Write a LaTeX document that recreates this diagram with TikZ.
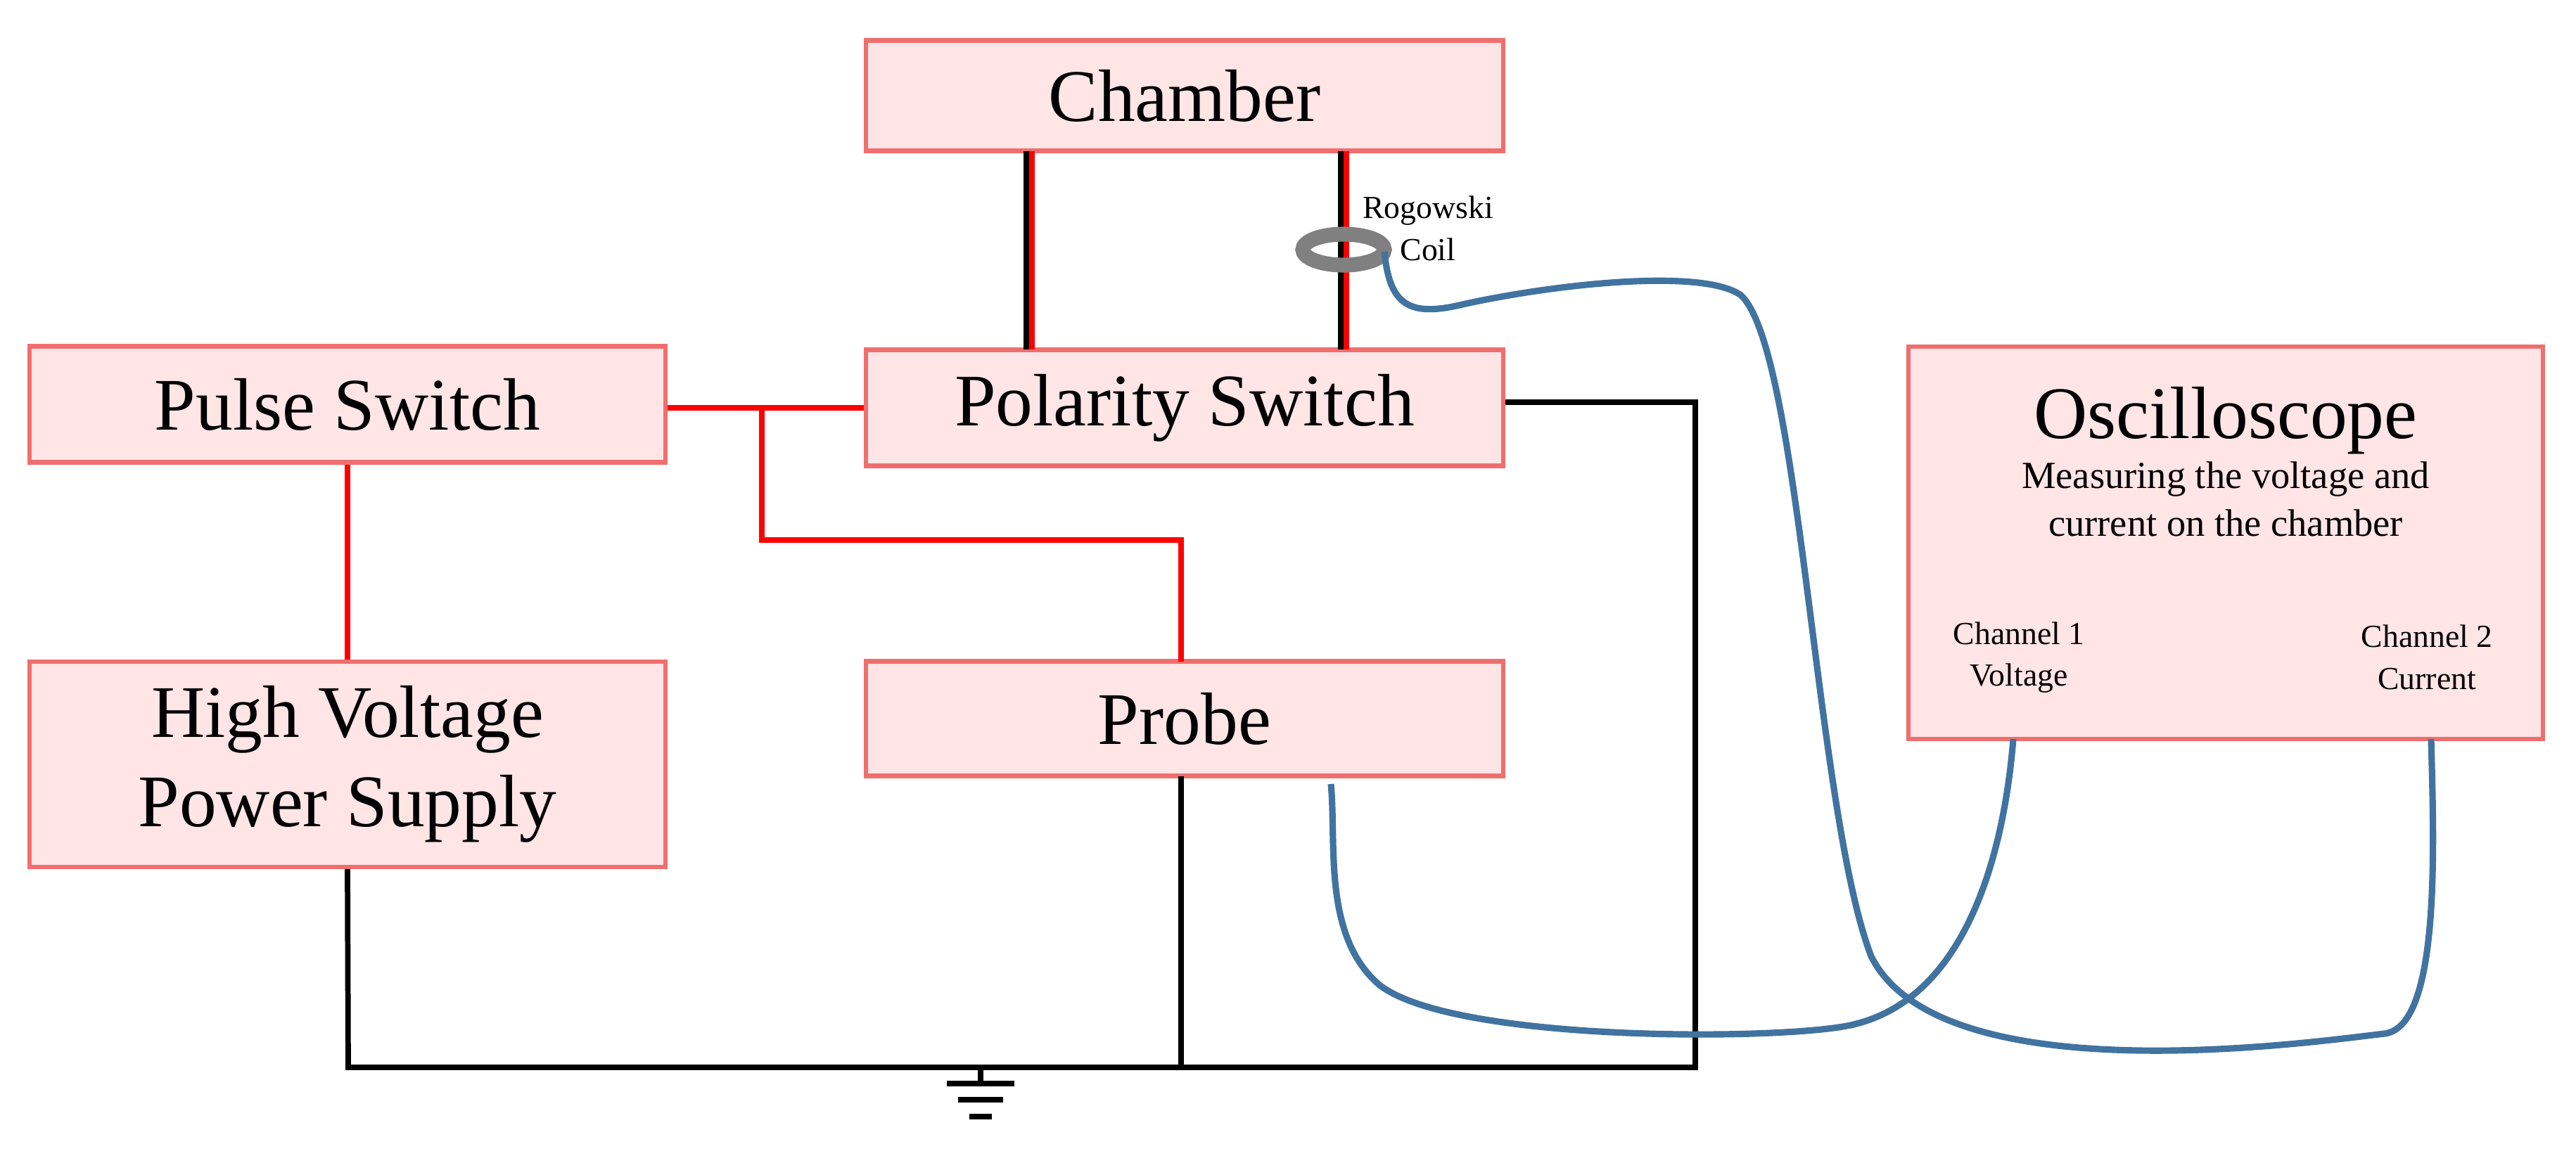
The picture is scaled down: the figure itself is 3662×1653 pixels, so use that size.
\documentclass[tikz,border=0pt]{standalone}
\usepackage{fontspec}
\setmainfont{Liberation Serif}
\begin{document}
\begin{tikzpicture}[x=0.01cm,y=-0.01cm,
 box/.style={draw={rgb,255:red,240;green,110;blue,110},line width=1.8pt,fill={rgb,255:red,255;green,229;blue,229},inner sep=0pt,font=\fontsize{30}{36}\selectfont,align=center},
 rw/.style={red,line width=2.2pt},
 bw/.style={black,line width=2.2pt},
 blw/.style={color={rgb,255:red,65;green,115;blue,160},line width=2.6pt},
 small/.style={font=\fontsize{15.5}{19.5}\selectfont,align=center},
 tiny/.style={font=\fontsize{13}{17}\selectfont,align=center}]
\useasboundingbox (0,0) rectangle (3662,1653);
\node[box,minimum width=906*0.01cm,minimum height=157*0.01cm] (ch) at (1684,136) {Chamber};
\node[box,minimum width=904*0.01cm,minimum height=165*0.01cm] (ps) at (494,575) {Pulse Switch};
\node[box,minimum width=906*0.01cm,minimum height=165*0.01cm] (pol) at (1684,580) {Polarity Switch};
\node[box,minimum width=904*0.01cm,minimum height=292*0.01cm] (hv) at (494,1087) {High Voltage\\Power Supply};
\node[box,minimum width=906*0.01cm,minimum height=163*0.01cm] (pr) at (1684,1022) {Probe};
\node[box,minimum width=902*0.01cm,minimum height=558*0.01cm] (osc) at (3164,772) {};
\node[font=\fontsize{30}{36}\selectfont] (osct) at (3164,598) {Oscilloscope};
\node[small] (oscm) at (3164,710) {Measuring the voltage and\\current on the chamber};
\node[tiny] (c1) at (2870,935) {Channel 1\\Voltage};
\node[tiny] (c2) at (3450,935) {Channel 2\\Current};
\node[tiny] (rog) at (2030,325) {Rogowski\\Coil};
% chamber to polarity wires
\draw[bw] (1459,215) -- (1459,497);
\draw[rw] (1467,215) -- (1467,497);
\draw[bw] (1906,215) -- (1906,497);
\draw[rw] (1914,215) -- (1914,497);
% coil
\draw[color={rgb,255:red,128;green,128;blue,128},line width=6pt] (1910,355) ellipse (58 and 22);
\draw[rw] (1914,345) -- (1914,365);
% red connections
\coordinate (j1) at (1083,580);
\draw[rw] (ps.east |- j1) -- (pol.west |- j1);
\draw[rw] (j1) -- (1083,768) -- (1679,768) -- (1679,941);
\draw[rw] (ps.south) -- (hv.north);
% black connections
\coordinate (br) at (2410,1518);
\draw[bw] (pol.east |- 0,572) -- (2410,572) -- (br) -- (495,1518) -- (hv.south);
\draw[bw] (1679,1104) -- (1679,1518);
\coordinate (g) at (1394,1518);
\draw[bw] (g) -- (1394,1541);
\draw[bw] (1346,1541) -- (1442,1541);
\draw[bw] (1362,1564) -- (1426,1564);
\draw[bw] (1378,1588) -- (1410,1588);
% blue cables
\coordinate (ch2) at (3456,1051);
\coordinate (ch1) at (2862,1051);
\draw[blw] (1968,358) .. controls (1975,430) and (2000,450) .. (2070,435)
  .. controls (2200,405) and (2420,380) .. (2475,420)
  .. controls (2560,500) and (2580,1150) .. (2660,1360)
  .. controls (2760,1560) and (3300,1480) .. (3390,1470)
  .. controls (3470,1460) and (3460,1200) .. (ch2);
\draw[blw] (1892,1115) .. controls (1900,1200) and (1880,1330) .. (1960,1400)
  .. controls (2060,1480) and (2500,1480) .. (2620,1460)
  .. controls (2800,1430) and (2850,1200) .. (ch1);
\end{tikzpicture}
\end{document}
